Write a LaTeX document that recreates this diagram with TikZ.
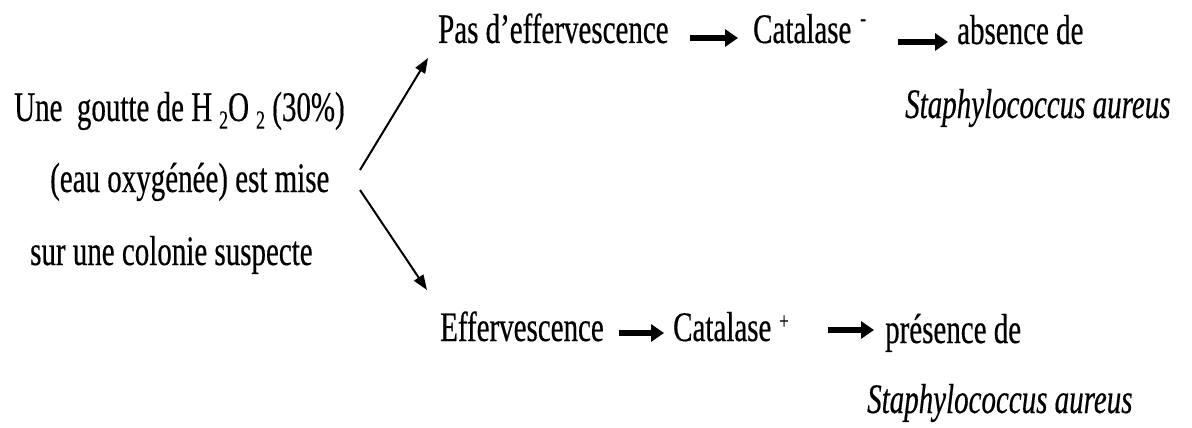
\documentclass[tikz,border=0pt]{standalone}
\usepackage{fontspec}
\setmainfont{Liberation Serif}[FakeStretch=0.69,FakeBold=0.4]
\usetikzlibrary{arrows.meta}
\newcommand{\subnum}[1]{\raisebox{-0.18em}{\fontsize{26}{26}\selectfont #1}}
\newcommand{\supmark}[2]{\raisebox{#1}{\fontsize{24}{24}\selectfont #2}}
\begin{document}
\begin{tikzpicture}[x=1pt,y=-1pt,
  txt/.style={inner sep=0pt, anchor=base west, font=\fontsize{42}{48}\selectfont},
  ital/.style={txt, font=\fontsize{42}{48}\selectfont\itshape},
  fatarrow/.style={line width=5.5pt, -{Triangle[length=13pt,width=17pt]}},
  diagarrow/.style={line width=2pt, -{Triangle[length=15pt,width=11pt]}}]
\useasboundingbox (0,0) rectangle (1192,428);
\fill[white] (0,0) rectangle (1192,428);
% left text
\node[txt] (l1) at (14,121) {Une\ \ goutte de H\,\subnum{2}O\,\subnum{2} (30\%)};
\node[txt] (l2) at (50,192) {(eau oxygénée) est mise};
\node[txt] (l3) at (30,265) {sur une colonie suspecte};
% upper branch
\node[txt] (pas) at (438,43) {Pas d'effervescence};
\node[txt] (cat1) at (753,43) {Catalase\hspace{9pt}\supmark{17pt}{-}};
\node[txt] (abs) at (957,44) {absence de};
\node[ital] (st1) at (905,118) {Staphylococcus aureus};
% lower branch
\node[txt] (eff) at (440,341) {Effervescence};
\node[txt] (cat2) at (673,341) {Catalase\hspace{8pt}\supmark{12pt}{+}};
\node[txt] (pres) at (885,343) {présence de};
\node[ital] (st2) at (867,413) {Staphylococcus aureus};
% arrow ends
\coordinate (fork1) at (360,170);
\coordinate (fork2) at (360,190);
\coordinate (u1s) at (690,38);
\coordinate (u1e) at (738,38);
\coordinate (u2s) at (898,42);
\coordinate (u2e) at (948,42);
\coordinate (d1s) at (619,333);
\coordinate (d1e) at (664,333);
\coordinate (d2s) at (828,330);
\coordinate (d2e) at (874,330);
\coordinate (top) at (428,58);
\coordinate (bot) at (427,290);
\draw[diagarrow] (fork1) -- (top);
\draw[diagarrow] (fork2) -- (bot);
\draw[fatarrow] (u1s) -- (u1e);
\draw[fatarrow] (u2s) -- (u2e);
\draw[fatarrow] (d1s) -- (d1e);
\draw[fatarrow] (d2s) -- (d2e);
\end{tikzpicture}
\end{document}
